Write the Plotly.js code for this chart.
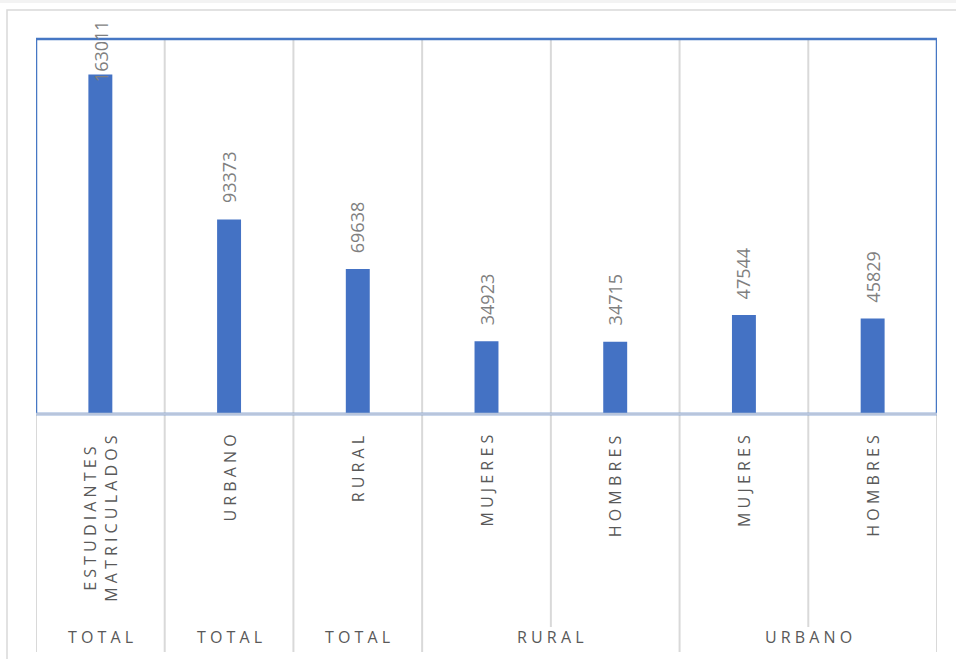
<!DOCTYPE html>
<html>
<head>
<meta charset="utf-8">
<script src="https://cdn.plot.ly/plotly-3.0.1.min.js"></script>
<style>
  html, body { margin: 0; padding: 0; background: #ffffff; }
  #chart { width: 956px; height: 659px; }
</style>
</head>
<body>
<div id="chart"></div>
<script>
// ---- data ----
const categories = ["ESTUDIANTES MATRICULADOS", "URBANO", "RURAL", "MUJERES", "HOMBRES", "MUJERES", "HOMBRES"];
const values = [163011, 93373, 69638, 34923, 34715, 47544, 45829];
const groupLabels = ["TOTAL", "TOTAL", "TOTAL", "RURAL", "URBANO"];
const groupSizes = [1, 1, 1, 2, 2];
const yMax = 180000;

// ---- geometry (pixels of the 956x659 page) ----
const W = 956, H = 659;
const L = 36, R = 937, T = 39, B = 414;
const plotW = R - L, plotH = B - T;
const xp = px => (px - L) / plotW;
const yp = py => (B - py) / plotH;

const spaced = s => s.split(" ").map(w => w.split("").join(" ")).join("<br>");

const labelColor = "#595959";
const gridColor = "#d9d9d9";
const font = "Open Sans, DejaVu Sans, sans-serif";

const xIdx = categories.map((_, i) => i);

const trace = {
  type: "bar",
  x: xIdx,
  y: values,
  width: 0.186,
  marker: { color: "#4472C4" },
  hoverinfo: "skip"
};

const shapes = [];
// top strip of the page
shapes.push({ type: "rect", xref: "paper", yref: "paper", x0: xp(-10), x1: xp(W + 10), y0: yp(3), y1: yp(-10),
  fillcolor: "#f3f3f3", line: { width: 0 }, layer: "below" });
// outer chart border
shapes.push({ type: "rect", xref: "paper", yref: "paper", x0: xp(7), x1: xp(W + 20), y0: yp(H + 20), y1: yp(10),
  fillcolor: "rgba(0,0,0,0)", line: { color: gridColor, width: 1.5 }, layer: "below" });
// vertical gridlines inside plot
for (let k = 0; k < categories.length - 1; k++) {
  shapes.push({ type: "line", xref: "x", yref: "paper", x0: k + 0.5, x1: k + 0.5, y0: 0, y1: 1,
    line: { color: gridColor, width: 2 } });
}
// category table lines below axis
const groupBounds = [-0.5];
let acc = -0.5;
groupSizes.forEach(s => { acc += s; groupBounds.push(acc); });
for (let k = -1; k < categories.length; k++) {
  const xb = k + 0.5;
  const full = groupBounds.some(g => Math.abs(g - xb) < 1e-9);
  shapes.push({ type: "line", xref: "x", yref: "paper", x0: xb, x1: xb, y0: 0, y1: full ? yp(652) : yp(627),
    line: { color: gridColor, width: 2 } });
}
// plot area border
shapes.push({ type: "rect", xref: "x", yref: "paper", x0: -0.5, x1: categories.length - 0.5, y0: 0, y1: 1,
  fillcolor: "rgba(0,0,0,0)", line: { color: "#4677c4", width: 2.5 } });
// bottom axis line
shapes.push({ type: "line", xref: "x", yref: "paper", x0: -0.5, x1: categories.length - 0.5, y0: 0, y1: 0,
  line: { color: "#b8c5dc", width: 2.5 } });

const annotations = [];
// data labels
values.forEach((v, i) => {
  const barTop = T + plotH * (1 - v / yMax);
  const txtLen = String(v).length * 10.3 + 2;
  const bottom = Math.max(barTop - 14, 20 + txtLen);
  annotations.push({
    x: i, y: v, xref: "x", yref: "y", text: String(v), showarrow: false,
    textangle: -90, yanchor: "bottom", xanchor: "center", yshift: barTop - bottom,
    font: { family: font, size: 18, color: "#7f7f7f" }
  });
});
// category labels
categories.forEach((c, i) => {
  annotations.push({
    x: i, y: yp(433), xref: "x", yref: "paper", text: spaced(c), showarrow: false,
    textangle: -90, yanchor: "top", xanchor: "center", align: "center",
    font: { family: font, size: 16, color: labelColor }
  });
});
// group labels
let start = 0;
groupLabels.forEach((g, j) => {
  const center = start + (groupSizes[j] - 1) / 2;
  annotations.push({
    x: center, y: yp(637), xref: "x", yref: "paper", text: spaced(g), showarrow: false,
    yanchor: "middle", xanchor: "center",
    font: { family: font, size: 16, color: labelColor }
  });
  start += groupSizes[j];
});

const layout = {
  width: W, height: H,
  margin: { l: L, r: W - R, t: T, b: H - B, pad: 0 },
  paper_bgcolor: "#ffffff",
  plot_bgcolor: "rgba(0,0,0,0)",
  showlegend: false,
  xaxis: { range: [-0.5, categories.length - 0.5], showgrid: false, zeroline: false,
    showticklabels: false, showline: false, ticks: "", fixedrange: true },
  yaxis: { range: [0, yMax], showgrid: false, zeroline: false,
    showticklabels: false, showline: false, ticks: "", fixedrange: true },
  shapes: shapes,
  annotations: annotations,
  font: { family: font }
};

Plotly.newPlot("chart", [trace], layout, { displayModeBar: false, staticPlot: true });
</script>
</body>
</html>
